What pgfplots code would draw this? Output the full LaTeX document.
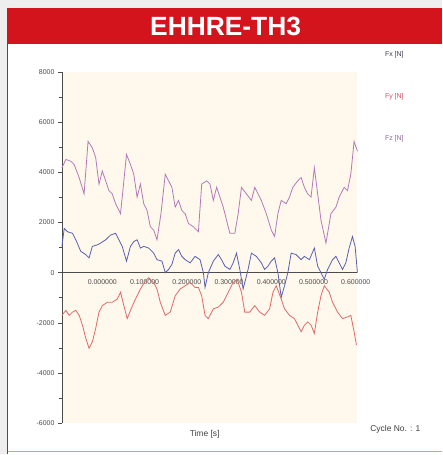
\documentclass[border=0pt]{standalone}
\usepackage{pgfplots}
\pgfplotsset{compat=1.18}
\usepackage{fontspec}
\setmainfont{Liberation Sans}
\definecolor{bannerred}{RGB}{211,20,28}
\definecolor{outergray}{RGB}{238,238,238}
\definecolor{cream}{RGB}{255,248,236}
\definecolor{fxblue}{RGB}{90,95,180}
\definecolor{fyred}{RGB}{224,106,106}
\definecolor{fzpurple}{RGB}{178,122,184}
\begin{document}
\begin{tikzpicture}[x=1bp,y=1bp]
\fill[outergray] (0,0) rectangle (443,455);
\fill[white] (7,0) rectangle (443,447);
\draw[bannerred!45,line width=1.2bp] (7.6,2.5) -- (443,2.5);
\draw[bannerred,line width=1.5bp] (7.75,0) -- (7.75,447);
\fill[bannerred] (7,411) rectangle (443,447);
\node[text=white,font=\fontsize{26.5}{30}\selectfont\bfseries] at (226,429) {EHHRE-TH3};
\node[text={rgb,255:red,60;green,60;blue,80},font=\fontsize{7}{8}\selectfont] at (395,400) {Fx [N]};
\node[text={rgb,255:red,214;green,80;blue,96},font=\fontsize{7}{8}\selectfont] at (395,358) {Fy [N]};
\node[text={rgb,255:red,140;green,105;blue,155},font=\fontsize{7}{8}\selectfont] at (395,316) {Fz [N]};
\node[text=black!75,font=\fontsize{8.5}{10}\selectfont] at (396,25) {Cycle No. : 1};
\begin{axis}[
  at={(62bp,31bp)}, anchor=south west,
  scale only axis, width=296bp, height=352bp,
  xmin=183, xmax=1075, ymin=-6000, ymax=8000,
  axis x line=middle, axis y line=left,
  axis line style={-, gray!60!black, line width=0.8bp},
  axis background/.style={fill=cream},
  ytick={-6000,-4000,...,8000},
  minor y tick num=1,
  tick align=outside,
  major tick length=4bp, minor tick length=2.5bp,
  every tick/.style={gray!60!black, line width=0.6bp},
  xtick={305,432.5,560,687.5,815,942.5,1070},
  xticklabels={0.000000,0.100000,0.200000,0.300000,0.400000,0.500000,0.600000},
  x tick style={draw=none},
  xticklabel style={font=\fontsize{7}{8}\selectfont, text=black!70, yshift=1bp},
  yticklabel style={font=\fontsize{7}{8}\selectfont, text=black!70},
  /pgf/number format/assume math mode=true,
  /pgf/number format/1000 sep={},
  xlabel={Time [s]},
  xlabel style={font=\fontsize{8.5}{10}\selectfont, text=black!75, at={(axis description cs:0.483,0)}, anchor=north, yshift=-4bp},
  clip=false,
]
\addplot[fzpurple, line width=0.8bp] table {
183 4180
195 4510
210 4440
220 4310
235 3790
250 3140
262 5230
275 4970
285 4580
295 3530
305 4050
315 3660
325 3270
335 3140
345 2750
360 2350
370 3660
378 4710
390 4310
400 3920
410 3010
420 3530
430 2750
440 2480
450 1830
460 1700
470 1310
482 2350
495 3920
505 3660
515 3400
525 2610
535 2880
545 2480
555 2350
565 1960
580 1830
595 1630
605 3530
620 3660
630 3530
640 2880
650 3400
660 3010
670 2610
680 2090
690 1570
705 1570
715 2350
725 3400
740 3140
755 2880
765 3400
775 3140
785 2880
800 2350
815 1700
825 1440
835 2350
845 2880
860 2750
870 3010
880 3400
895 3660
905 3790
915 3400
925 3140
935 3010
945 4180
955 3140
965 2090
980 1180
995 2350
1010 2610
1020 3010
1035 3400
1045 3270
1055 3920
1065 5230
1075 4840
};
\addplot[fxblue, line width=0.8bp] table {
183 1050
190 1760
200 1630
215 1570
225 1310
240 850
255 720
265 590
275 1050
290 1110
300 1180
315 1310
330 1500
345 1570
355 1310
365 1050
378 460
390 1050
400 1240
410 1310
420 980
430 1050
445 980
460 780
470 520
485 460
495 0
505 130
515 330
525 780
535 920
545 650
555 520
570 390
585 650
600 520
610 0
615 -590
625 0
640 460
655 720
665 520
675 260
690 130
700 390
710 780
720 130
730 -650
745 130
755 780
770 650
785 390
795 130
805 260
815 460
825 590
835 0
845 -980
855 -520
865 0
875 780
890 720
905 520
915 650
930 520
945 980
955 260
965 0
975 -260
985 130
1000 520
1010 650
1020 390
1030 130
1040 390
1050 980
1060 1440
1068 1050
1075 0
};
\addplot[fyred, line width=0.8bp] table {
183 -1700
195 -1500
205 -1700
215 -1570
225 -1500
235 -1700
245 -2090
255 -2610
265 -3010
275 -2750
285 -2220
295 -1570
305 -1310
320 -1180
335 -1180
350 -1050
360 -780
370 -1310
380 -1830
392 -1440
405 -1050
420 -650
435 -330
445 -200
460 -390
470 -650
480 -1180
495 -1700
510 -1570
525 -920
540 -650
555 -520
570 -390
585 -590
595 -590
605 -920
615 -1700
625 -1830
640 -1440
655 -1370
670 -1180
685 -780
700 -390
712 -260
725 -780
735 -1570
750 -1570
765 -1310
780 -1570
795 -1700
810 -1440
820 -780
830 -520
845 -1050
855 -1440
870 -1700
885 -1830
895 -2090
905 -2350
915 -2090
925 -1960
935 -2090
945 -2420
955 -1570
965 -920
975 -520
990 -780
1000 -1180
1015 -1570
1030 -1830
1045 -1760
1055 -1700
1065 -2350
1072 -2880
};
\end{axis}
\end{tikzpicture}
\end{document}
